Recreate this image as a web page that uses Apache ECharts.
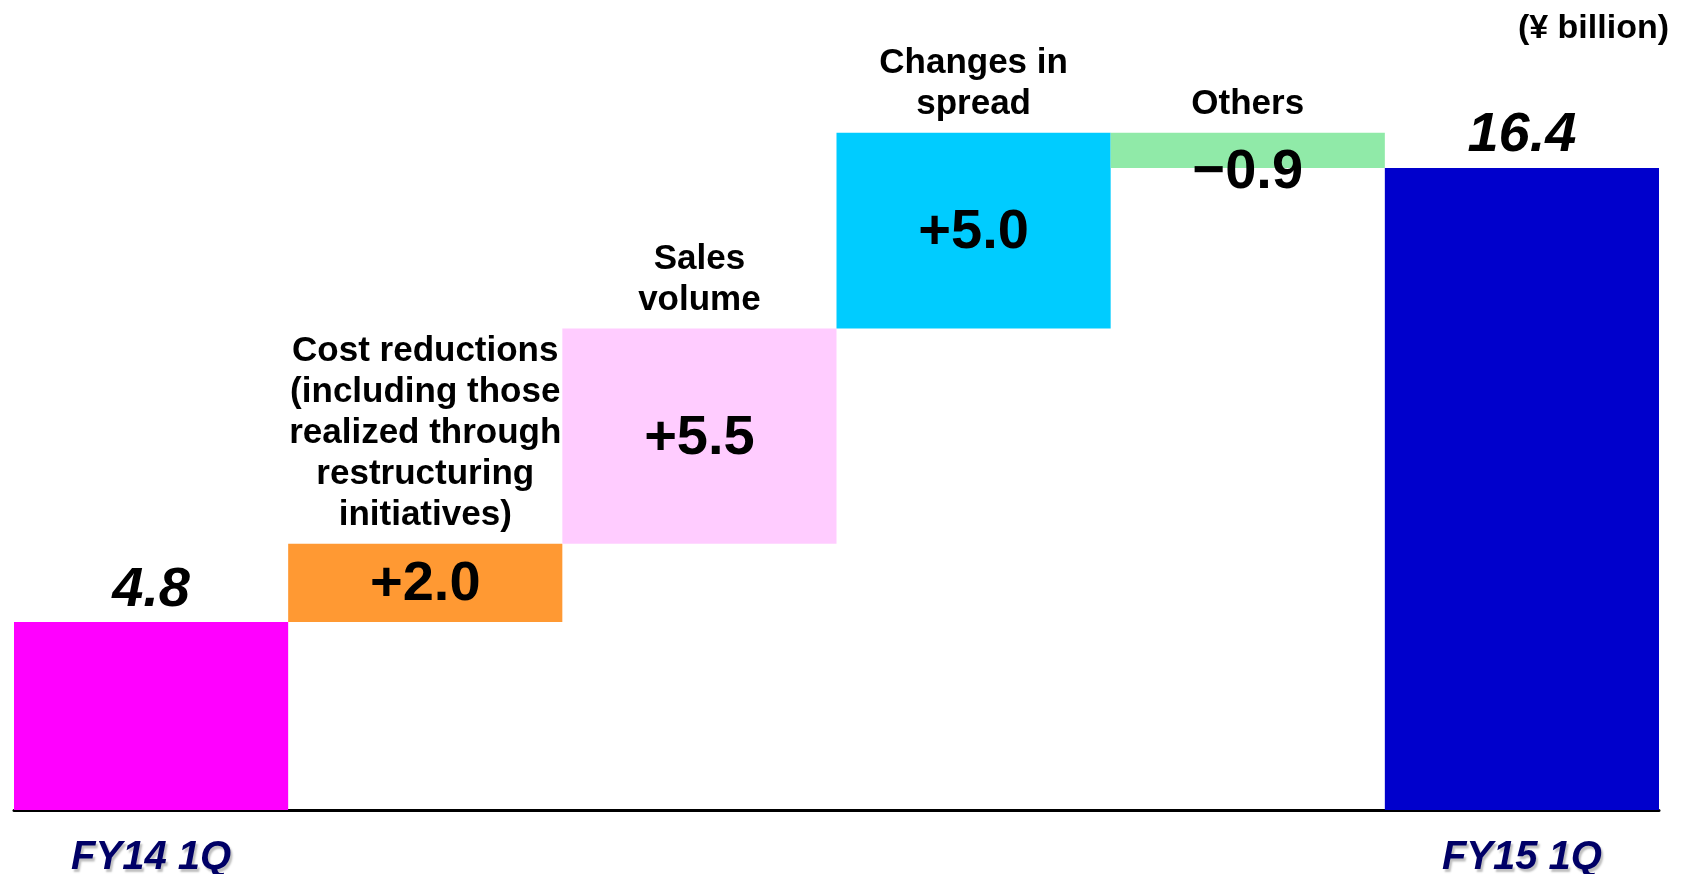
<!DOCTYPE html>
<html>
<head>
<meta charset="utf-8">
<script src="https://cdn.jsdelivr.net/npm/echarts@6/dist/echarts.min.js"></script>
<style>
  html, body { margin: 0; padding: 0; background: #fff; }
  #chart { width: 1684px; height: 874px; }
</style>
</head>
<body>
<div id="chart"></div>
<script>
// data (¥ billion)
const categories = ['FY14 1Q', 'Cost reductions', 'Sales volume', 'Changes in spread', 'Others', 'FY15 1Q'];
const axisNames = ['FY14 1Q', '', '', '', '', 'FY15 1Q'];
const topNames = ['', 'Cost reductions\n(including those\nrealized through\nrestructuring\ninitiatives)', 'Sales\nvolume', 'Changes in\nspread', 'Others', ''];
const values = [4.8, 2.0, 5.5, 5.0, -0.9, 16.4];
const valueLabels = ['4.8', '+2.0', '+5.5', '+5.0', '\u22120.9', '16.4'];
const colors = ['#FF00FF', '#FF9933', '#FFCCFF', '#00CCFF', '#90EAA8', '#0000CC'];

const font = 'Liberation Sans, Arial, sans-serif';
const last = values.length - 1;

// waterfall: invisible base + visible step; [index, low, high] rows drive the text
let running = 0;
const base = [], steps = [], spans = [];
values.forEach((v, i) => {
  if (i === 0 || i === last) {
    base.push(0);
    steps.push(v);
    spans.push([i, 0, v]);
    running = v;
  } else {
    const next = running + v;
    const lo = Math.min(running, next), hi = Math.max(running, next);
    base.push(lo);
    steps.push(hi - lo);
    spans.push([i, lo, hi]);
    running = next;
  }
});

function renderText(params, api) {
  const i = api.value(0);
  const lo = api.coord([i, api.value(1)]);
  const hi = api.coord([i, api.value(2)]);
  const x = hi[0];
  const kids = [];
  if (i === 0 || i === last) {
    kids.push({
      type: 'text', x: x, y: hi[1] - 4,
      style: {
        text: valueLabels[i], fontFamily: font, fontSize: 56, fontWeight: 'bold', fontStyle: 'italic',
        fill: '#000', align: 'center', verticalAlign: 'bottom',
        shadowColor: 'rgba(0,0,0,0.35)', shadowBlur: 3, shadowOffsetX: 3, shadowOffsetY: 3
      }
    });
  } else {
    // gains sit in the middle of the bar, the loss hangs just under its thin bar
    const y = values[i] > 0 ? (lo[1] + hi[1]) / 2 + 2 : lo[1] + 5;
    kids.push({
      type: 'text', x: x, y: y,
      style: {
        text: valueLabels[i], fontFamily: font, fontSize: 56, fontWeight: 'bold',
        fill: '#000', align: 'center', verticalAlign: 'middle'
      }
    });
    kids.push({
      type: 'text', x: x, y: hi[1] - 8,
      style: {
        text: topNames[i], fontFamily: font, fontSize: 35, lineHeight: 41, fontWeight: 'bold',
        fill: '#000', align: 'center', verticalAlign: 'bottom'
      }
    });
  }
  return { type: 'group', children: kids };
}

const chart = echarts.init(document.getElementById('chart'));
chart.setOption({
  backgroundColor: '#fff',
  animation: false,
  title: {
    text: '(\u00a5 billion)',
    right: 10, top: 7,
    textStyle: { fontFamily: font, fontSize: 34, fontWeight: 'bold', color: '#000' }
  },
  grid: { left: 14, right: 25, top: 27, bottom: 64, outerBoundsMode: 'none' },
  xAxis: {
    type: 'category',
    data: categories,
    axisLine: { lineStyle: { color: '#000', width: 3 } },
    axisTick: { show: false },
    axisLabel: {
      interval: 0, margin: 28,
      formatter: (v, i) => axisNames[i],
      fontFamily: font, fontSize: 40, fontWeight: 'bold', fontStyle: 'italic', color: '#000066',
      textShadowColor: 'rgba(0,0,0,0.25)', textShadowBlur: 2, textShadowOffsetX: 2, textShadowOffsetY: 3
    }
  },
  yAxis: {
    type: 'value', min: 0, max: 20,
    show: false,
    splitLine: { show: false }
  },
  series: [
    {
      type: 'bar', stack: 'w', barCategoryGap: '0%',
      itemStyle: { color: 'transparent' },
      data: base
    },
    {
      type: 'bar', stack: 'w', barCategoryGap: '0%',
      data: steps.map((v, i) => ({ value: v, itemStyle: { color: colors[i] } }))
    },
    {
      type: 'custom', z: 5,
      renderItem: renderText,
      encode: { x: 0, y: [1, 2] },
      data: spans
    }
  ]
});
</script>
</body>
</html>
